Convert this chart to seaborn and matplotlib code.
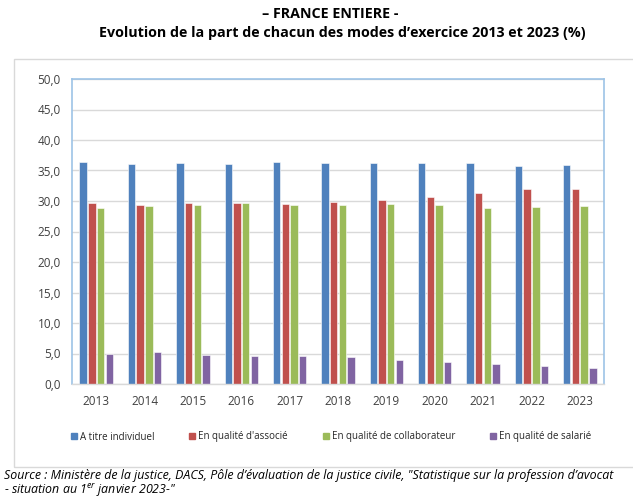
import numpy as np
import pandas as pd
import matplotlib
matplotlib.use("Agg")
import matplotlib.pyplot as plt
import seaborn as sns
from matplotlib.patches import Rectangle

# Data
years = [2013, 2014, 2015, 2016, 2017, 2018, 2019, 2020, 2021, 2022, 2023]
individuel = [36.4, 36.0, 36.2, 36.0, 36.4, 36.2, 36.2, 36.2, 36.3, 35.8, 35.9]
associe = [29.7, 29.4, 29.6, 29.7, 29.5, 29.9, 30.1, 30.6, 31.3, 32.0, 32.0]
collaborateur = [28.8, 29.2, 29.4, 29.6, 29.3, 29.3, 29.5, 29.3, 28.8, 29.0, 29.1]
salarie = [5.0, 5.2, 4.7, 4.6, 4.6, 4.4, 4.0, 3.6, 3.3, 2.9, 2.6]
series = ["A titre individuel", "En qualité d'associé",
          "En qualité de collaborateur", "En qualité de salarié"]
colors = ["#4F81BD", "#C0504D", "#9BBB59", "#8064A2"]

df = pd.DataFrame({"year": years, series[0]: individuel, series[1]: associe,
                   series[2]: collaborateur, series[3]: salarie})
long = df.melt(id_vars="year", var_name="mode", value_name="part")

sns.set_style("white")
plt.rcParams['font.family'] = ['Open Sans', 'DejaVu Sans']

fig = plt.figure(figsize=(6.33, 4.99), dpi=100)
W, H = 633, 499

# outer chart frame
fig.patches.append(Rectangle((14 / W, 1 - 467 / H), 1.0, (467 - 59) / H,
                             transform=fig.transFigure, fill=False,
                             edgecolor="#d9d9d9", linewidth=1.0))

ax = fig.add_axes([72 / W, 1 - 384 / H, (604 - 72) / W, (384 - 79) / H])
sns.barplot(data=long, x="year", y="part", hue="mode", palette=colors,
            saturation=1, width=0.72, gap=0.15, ax=ax, legend=False,
            edgecolor="white", linewidth=0.4)

ax.set_ylim(0, 50)
ax.set_yticks(np.arange(0, 50.1, 5))
ax.set_yticklabels([f"{v:.1f}".replace(".", ",") for v in np.arange(0, 50.1, 5)],
                   fontsize=8.5, color="#404040")
ax.tick_params(axis="x", labelsize=8.5, colors="#404040", length=0, pad=8)
ax.tick_params(axis="y", length=0, pad=8)
ax.yaxis.grid(True, color="#d9d9d9", linewidth=1.0)
ax.set_axisbelow(True)
ax.set_xlabel("")
ax.set_ylabel("")
for side in ["left", "top", "right"]:
    ax.spines[side].set_color("#9dc3e6")
    ax.spines[side].set_linewidth(1.2)
ax.spines["bottom"].set_color("#d9d9d9")
ax.spines["bottom"].set_linewidth(1.0)

# legend
handles = [Rectangle((0, 0), 1, 1, color=c) for c in colors]
fig.legend(handles, series, loc="center", bbox_to_anchor=(331 / W, 1 - 437 / H),
           ncol=4, frameon=False, fontsize=7, handlelength=0.6, handleheight=0.6,
           handletextpad=0.3, columnspacing=3.6)

# titles
fig.text(330 / W, 1 - 14 / H, "– FRANCE ENTIERE -", ha="center", va="center",
         fontsize=10.3, fontweight="bold", color="black")
fig.text(342 / W, 1 - 33 / H,
         "Evolution de la part de chacun des modes d’exercice 2013 et 2023 (%)",
         ha="center", va="center", fontsize=10.3, fontweight="bold", color="black")

# source
fig.text(4 / W, 1 - 475 / H,
         "Source : Ministère de la justice, DACS, Pôle d’évaluation de la justice civile, "
         "\"Statistique sur la profession d’avocat",
         ha="left", va="center", fontsize=8.9, style="italic", color="black")
fig.text(4 / W, 1 - 490 / H, "- situation au 1$^{\\mathregular{er}}$ janvier 2023-\"",
         ha="left", va="center", fontsize=8.9, style="italic", color="black")

fig.savefig("out.png", dpi=100)
